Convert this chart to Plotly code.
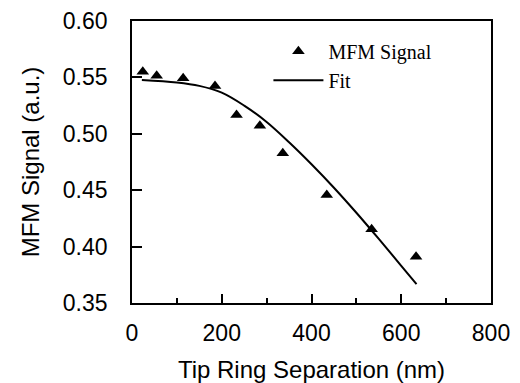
import plotly.graph_objects as go

# Measured MFM signal
sep_nm = [24, 55, 114, 185, 233, 285, 336, 434, 534, 633]
mfm_signal = [0.555, 0.5515, 0.5492, 0.5424, 0.5167, 0.5072, 0.4827, 0.4457, 0.4153, 0.3911]

# Fit curve
fit_x = [22, 100, 150, 200, 250, 300, 350, 400, 450, 500, 550, 600, 634]
fit_y = [0.5477, 0.5455, 0.5425, 0.5365, 0.5250, 0.5105, 0.4925, 0.4730,
         0.4522, 0.4300, 0.4068, 0.3830, 0.3668]

x_ticks = [0, 200, 400, 600, 800]
y_ticks = [0.35, 0.40, 0.45, 0.50, 0.55, 0.60]
y_tick_text = ["0.35", "0.40", "0.45", "0.50", "0.55", "0.60"]

fig = go.Figure()
fig.add_trace(go.Scatter(
    x=sep_nm, y=mfm_signal, mode="markers", name="MFM Signal",
    marker=dict(symbol="triangle-up", size=11, color="black"),
))
fig.add_trace(go.Scatter(
    x=fit_x, y=fit_y, mode="lines", name="Fit",
    line=dict(color="black", width=2, shape="spline", smoothing=1),
))

sans = "Liberation Sans, Arial, Helvetica, sans-serif"
fig.update_layout(
    width=520, height=383,
    margin=dict(l=132, r=29, t=21, b=80),
    paper_bgcolor="white", plot_bgcolor="white",
    font=dict(family=sans, color="black"),
    showlegend=True,
    legend=dict(
        x=0.38, y=0.962, xanchor="left", yanchor="top",
        bgcolor="rgba(0,0,0,0)",
        font=dict(family="Liberation Serif, Times New Roman, serif", size=20, color="black"),
        itemwidth=50, tracegroupgap=0,
    ),
    xaxis=dict(
        range=[0, 800], tickvals=x_ticks, ticktext=[str(v) for v in x_ticks],
        ticks="inside", ticklen=9, tickwidth=1.5, tickcolor="black",
        minor=dict(ticks="inside", ticklen=5, tickwidth=1.5, tickcolor="black", dtick=100),
        showline=True, linecolor="black", linewidth=1.8, mirror=True,
        showgrid=False, zeroline=False, automargin=False,
        tickfont=dict(family=sans, size=23), ticklabelstandoff=8,
        title=dict(text="Tip Ring Separation (nm)", font=dict(family=sans, size=24), standoff=32),
    ),
    yaxis=dict(
        range=[0.35, 0.60], tickvals=y_ticks, ticktext=y_tick_text,
        ticks="inside", ticklen=10, tickwidth=1.5, tickcolor="black",
        showline=True, linecolor="black", linewidth=1.8, mirror=True,
        showgrid=False, zeroline=False, automargin=False,
        tickfont=dict(family=sans, size=23), ticklabelstandoff=18,
        title=dict(text="MFM Signal (a.u.)", font=dict(family=sans, size=24), standoff=16),
    ),
)

fig.write_html("out.html")
